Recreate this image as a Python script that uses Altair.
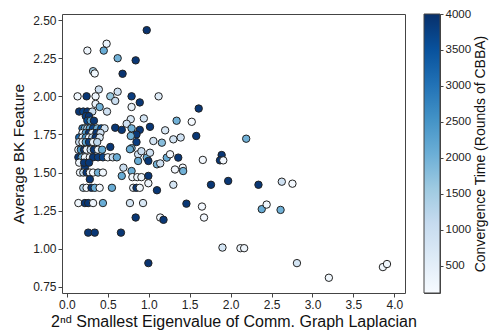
import altair as alt
import pandas as pd

# Data: (eigenvalue, avg BK feature, convergence time)
xs = [
    0.975, 0.485, 0.25, 0.45, 0.62, 0.84, 0.32, 0.34, 0.68, 0.39, 0.62,
    0.13, 0.24, 0.35, 0.53, 0.79, 1.12,
    0.59, 0.89, 0.35, 0.40, 0.79,
    0.15, 0.20, 0.25, 0.31, 0.49, 1.61,
    0.23, 0.27,
    0.94, 0.78, 1.34, 1.525,
    0.25, 0.29, 0.33, 0.73,
    0.19, 0.22, 0.25, 0.28, 0.32, 0.37, 0.42, 0.46,
    0.59, 0.67, 0.79, 0.89, 1.015, 1.20, 1.30, 1.39, 1.58,
    1.056, 1.16, 0.85, 0.85, 0.78, 0.53, 0.79,
    0.19, 0.23, 0.27, 0.31, 0.36, 0.41,
    0.15, 0.19, 0.23, 0.27, 0.31, 0.35, 0.40,
    0.15, 0.19, 0.23, 0.27, 0.32, 0.37,
    0.14, 0.17, 0.21, 0.24, 0.29, 0.33, 0.38, 0.43,
    0.14, 0.18, 0.22, 0.28, 0.32, 0.38, 0.44, 0.50, 0.56, 0.61,
    0.77, 0.87, 0.975, 0.995, 1.015, 1.10, 1.14, 1.22, 1.26, 1.36, 1.32, 1.415, 1.42, 1.66,
    0.22, 0.15, 0.21, 0.27, 0.87, 0.91,
    0.16, 0.20, 0.24, 0.28, 0.32, 0.38, 0.44,
    0.28,
    0.67, 0.69, 0.79, 0.80, 0.86, 0.91, 0.995, 0.995,
    0.20, 0.24, 0.30, 0.34, 0.40, 0.55,
    0.81, 0.85, 0.89, 1.10, 1.30, 1.76,
    0.14, 0.22, 0.26, 0.32, 0.44, 0.77, 0.93, 1.46, 1.65,
    0.84, 1.14, 1.18, 1.675,
    0.26, 0.34, 0.66, 0.995,
    2.19, 1.89, 1.87, 1.91, 1.97, 2.34, 2.625, 2.755, 2.38, 2.44, 2.61,
    1.90, 2.12, 2.165, 2.81, 3.20, 3.86, 3.91,
]
ys = [
    2.434, 2.345, 2.30, 2.30, 2.25, 2.236, 2.165, 2.15, 2.148, 2.045, 2.03,
    2.00, 2.00, 2.00, 2.00, 2.00, 2.00,
    1.97, 1.96, 1.95, 1.93, 1.93,
    1.90, 1.90, 1.90, 1.90, 1.90, 1.92,
    1.87, 1.87,
    1.855, 1.85, 1.84, 1.833,
    1.84, 1.84, 1.84, 1.82,
    1.79, 1.79, 1.79, 1.79, 1.79, 1.79, 1.79, 1.79,
    1.794, 1.78, 1.79, 1.78, 1.80, 1.777, 1.718, 1.73, 1.74,
    1.707, 1.696, 1.75, 1.70, 1.74, 1.668, 1.66,
    1.76, 1.76, 1.76, 1.76, 1.76, 1.76,
    1.73, 1.73, 1.73, 1.73, 1.73, 1.73, 1.73,
    1.70, 1.70, 1.70, 1.70, 1.70, 1.70,
    1.65, 1.65, 1.65, 1.65, 1.65, 1.65, 1.65, 1.65,
    1.60, 1.60, 1.60, 1.60, 1.60, 1.60, 1.60, 1.60, 1.60, 1.60,
    1.653, 1.62, 1.598, 1.576, 1.63, 1.554, 1.56, 1.598, 1.62, 1.598, 1.52, 1.532, 1.51, 1.583,
    1.532, 1.565, 1.565, 1.565, 1.576, 1.64,
    1.50, 1.50, 1.50, 1.50, 1.50, 1.50, 1.50,
    1.456,
    1.478, 1.532, 1.51, 1.47, 1.47, 1.47, 1.478, 1.43,
    1.40, 1.40, 1.40, 1.40, 1.40, 1.40,
    1.40, 1.40, 1.40, 1.384, 1.42, 1.42,
    1.30, 1.30, 1.30, 1.30, 1.30, 1.30, 1.30, 1.296, 1.277,
    1.205, 1.205, 1.19, 1.205,
    1.106, 1.106, 1.106, 0.906,
    1.722, 1.615, 1.58, 1.58, 1.445, 1.42, 1.44, 1.427, 1.26, 1.29, 1.255,
    1.008, 1.004, 1.004, 0.906, 0.81, 0.88, 0.90,
]
cs = [
    3950, 350, 300, 2100, 2000, 3900, 1500, 250, 3950, 900, 900,
    250, 3900, 300, 1600, 3800, 600,
    1000, 3900, 400, 2000, 400,
    3900, 3700, 3900, 1000, 900, 3900,
    3800, 3900,
    800, 700, 2000, 150,
    3600, 2200, 3900, 900,
    3000, 2000, 1300, 2100, 3700, 2000, 3500, 800,
    3900, 3900, 2000, 3900, 3900, 700, 800, 900, 3900,
    800, 1800, 3900, 3800, 2000, 3900, 2000,
    200, 2300, 3900, 400, 3900, 900,
    3200, 500, 2600, 200, 1200, 3900, 700,
    1000, 300, 2200, 3800, 400, 1200,
    400, 2500, 3900, 300, 1100, 3900, 400, 2100,
    3900, 2200, 300, 250, 3900, 3800, 3700, 300, 1000, 2100,
    2100, 900, 2100, 3900, 900, 2000, 900, 2100, 200, 3900, 200, 200, 2000, 200,
    3900, 300, 3900, 3900, 2100, 1000,
    250, 1200, 3900, 300, 200, 2000, 250,
    3900,
    2100, 1000, 2100, 200, 250, 300, 3900, 300,
    1400, 300, 3900, 2100, 200, 2100,
    400, 3900, 250, 3900, 800, 3900,
    250, 3900, 3900, 300, 2100, 800, 700, 3900, 200,
    3900, 300, 3900, 200,
    3900, 3900, 3900, 3950,
    2000, 3900, 3900, 200, 3900, 3900, 900, 200, 2100, 250, 2000,
    800, 300, 300, 800, 250, 250, 250,
]

x_ticks = [0.0, 0.5, 1.0, 1.5, 2.0, 2.5, 3.0, 3.5, 4.0]
y_ticks = [0.75, 1.00, 1.25, 1.50, 1.75, 2.00, 2.25, 2.50]
c_ticks = [500, 1000, 1500, 2000, 2500, 3000, 3500, 4000]
c_min, c_max = 120, 4000

df = pd.DataFrame({"lam2": xs, "bk": ys, "conv": cs})
bar_df = pd.DataFrame({"lo": [c_min], "hi": [c_max]})

blues = ['#f7fbff', '#deebf7', '#c6dbef', '#9ecae1', '#6baed6',
         '#4292c6', '#2171b5', '#08519c', '#08306b']
stops = [c_min + (c_max - c_min) * i / (len(blues) - 1) for i in range(len(blues))]

FONT = "Liberation Sans"
PLOT_H = 279

scatter = alt.Chart(df).mark_circle(
    size=55, stroke='#222222', strokeWidth=1, opacity=1
).encode(
    x=alt.X('lam2:Q',
            scale=alt.Scale(domain=[-0.06, 4.13], nice=False, zero=False),
            axis=alt.Axis(values=x_ticks, format='.1f',
                          title='2ⁿᵈ Smallest Eigenvalue of Comm. Graph Laplacian')),
    y=alt.Y('bk:Q',
            scale=alt.Scale(domain=[0.71, 2.54], nice=False, zero=False),
            axis=alt.Axis(values=y_ticks, format='.2f', title='Average BK Feature',
                          titlePadding=6, titleFontSize=15.5)),
    color=alt.Color('conv:Q',
                    scale=alt.Scale(domain=stops, range=blues),
                    legend=None),
).properties(width=343, height=PLOT_H)

grad = alt.Gradient(
    gradient='linear',
    stops=[alt.GradientStop(color=c, offset=i / (len(blues) - 1)) for i, c in enumerate(blues)],
    x1=0, x2=0, y1=1, y2=0,
)

colorbar = alt.Chart(bar_df).mark_rect(fill=grad, stroke='#444444', strokeWidth=1).encode(
    x=alt.value(0), x2=alt.value(16),
    y=alt.Y('lo:Q', scale=alt.Scale(domain=[c_min, c_max], nice=False, zero=False),
            axis=alt.Axis(orient='right', values=c_ticks, format='d',
                          title='Convergence Time (Rounds of CBBA)',
                          titleAngle=270, titleBaseline='top',
                          titleFontSize=14, titlePadding=3, tickSize=3,
                          labelFontSize=11.5)),
    y2='hi:Q',
).properties(width=16, height=PLOT_H)

chart = alt.hconcat(scatter, colorbar, spacing=6).properties(
    padding={"left": 11, "right": 0, "top": 7, "bottom": 2},
).configure_view(
    stroke='#444444', strokeWidth=1
).configure_axis(
    labelFont=FONT, titleFont=FONT, labelFontSize=12, titleFontSize=16,
    labelColor='#222222', titleColor='#111111', titleFontWeight='normal',
    domain=False, grid=False, tickColor='#444444', tickSize=4,
    labelPadding=2, titlePadding=3,
)

chart.save("out.html", embed_options={"renderer": "svg", "actions": False})
